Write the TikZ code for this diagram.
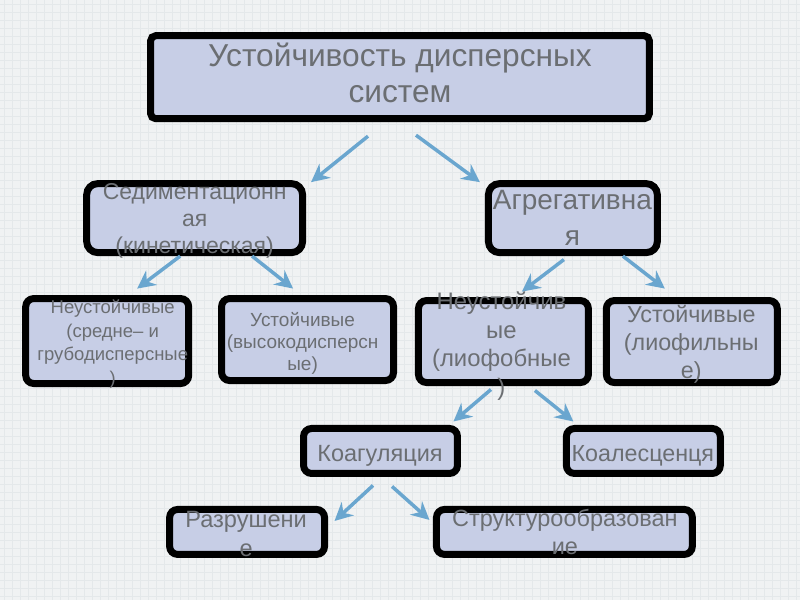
\documentclass[tikz,border=0pt]{standalone}
\usepackage{fontspec}
\setmainfont{Liberation Sans}
\usetikzlibrary{arrows.meta,calc}
\definecolor{bg}{HTML}{F0F2F3}
\definecolor{gridc}{HTML}{E4E8EA}
\definecolor{boxfill}{HTML}{C7CEE6}
\definecolor{txt}{HTML}{6B6E72}
\definecolor{arr}{HTML}{6AA6CF}
\begin{document}
\begin{tikzpicture}[x=1pt,y=-1pt,
  box/.style={draw=black, line width=7pt, fill=boxfill, rounded corners=8pt, inner sep=0pt},
  lbl/.style={text=txt, align=center, inner sep=0pt, anchor=base},
  gridline/.style={draw=gridc, line width=0.5pt},
  conn/.style={draw=arr, line width=3.5pt, -{Stealth[length=18pt,width=18pt,inset=6pt]}}]
\fill[bg] (0,0) rectangle (800,600);
\foreach \gx in {4,12,...,796} \draw[gridline] (\gx,0) -- (\gx,600);
\foreach \gy in {4,12,...,596} \draw[gridline] (0,\gy) -- (800,\gy);
\useasboundingbox (0,0) rectangle (800,600);

% boxes
\node[box, rounded corners=5pt, minimum width=499pt, minimum height=83pt] (top) at (400,77) {};
\node[box, rounded corners=11pt, minimum width=216pt, minimum height=69pt] (sed) at (194.5,218) {};
\node[box, rounded corners=11pt, minimum width=169pt, minimum height=69pt] (agr) at (573,218) {};
\node[box, minimum width=163pt, minimum height=85pt] (na) at (107,341) {};
\node[box, minimum width=172pt, minimum height=82pt] (ub) at (307.5,339.5) {};
\node[box, minimum width=170pt, minimum height=82pt] (nc) at (503.5,341.5) {};
\node[box, minimum width=171pt, minimum height=82pt] (ud) at (692,341.5) {};
\node[box, minimum width=154pt, minimum height=45pt] (koag) at (380.5,451) {};
\node[box, minimum width=154pt, minimum height=45pt] (koal) at (643.5,451) {};
\node[box, minimum width=155pt, minimum height=45pt] (razr) at (247,532) {};
\node[box, minimum width=256pt, minimum height=45pt] (str) at (564.5,532) {};

% texts (anchor = baseline of last line)
\node[lbl, font=\fontsize{31.7}{36}\selectfont] (ttop) at (400,102) {Устойчивость дисперсных\\систем};
\node[lbl, font=\fontsize{23}{27}\selectfont] (tsed) at (194.5,253) {Седиментационн\\ая\\(кинетическая)};
\node[lbl, font=\fontsize{28}{36}\selectfont] (tagr) at (572.5,245) {Агрегативна\\я};
\node[lbl, font=\fontsize{18.5}{23.5}\selectfont] (tna) at (112.5,384) {Неустойчивые\\(средне– и\\грубодисперсные\\)};
\node[lbl, font=\fontsize{19}{22}\selectfont] (tub) at (302.5,370) {Устойчивые\\(высокодисперсн\\ые)};
\node[lbl, font=\fontsize{23.9}{28.5}\selectfont] (tnc) at (501.5,395) {Неустойчив\\ые\\(лиофобные\\)};
\node[lbl, font=\fontsize{23.3}{28}\selectfont] (tud) at (691.5,378) {Устойчивые\\(лиофильны\\е)};
\node[lbl, font=\fontsize{23.5}{28}\selectfont] (tkoag) at (380,462) {Коагуляция};
\node[lbl, font=\fontsize{23.3}{28}\selectfont] (tkoal) at (643,462) {Коалесценця};
\node[lbl, font=\fontsize{23.6}{29}\selectfont] (trazr) at (246,557) {Разрушени\\е};
\node[lbl, font=\fontsize{23.5}{28}\selectfont] (tstr) at (565,555) {Структурообразован\\ие};

% connectors
\draw[conn] ($(top.south)+(-32,14)$) -- ($(sed.north east)+(5,2)$);
\draw[conn] ($(top.south)+(16,13)$) -- ($(agr.north west)+(-5,2)$);
\draw[conn] ($(sed.south)+(-14.5,0)$) -- ($(na.north)+(30,-6.5)$);
\draw[conn] ($(sed.south)+(57.5,0)$) -- ($(ub.north)+(-14.5,-6.5)$);
\draw[conn] ($(agr.south)+(-9,3.5)$) -- ($(nc.north)+(18.5,-5.5)$);
\draw[conn] ($(agr.south)+(50,0)$) -- ($(ud.north)+(-27,-8.5)$);
\draw[conn] ($(nc.south)+(-12.5,3.5)$) -- ($(koag.north east)+(-7.5,-3.5)$);
\draw[conn] ($(nc.south)+(31.5,4.5)$) -- ($(koal.north west)+(10.5,-3.5)$);
\draw[conn] ($(koag.south)+(-7.5,8.5)$) -- ($(razr.east)+(6.5,-11)$);
\draw[conn] ($(koag.south)+(11.5,9.5)$) -- ($(str.west)+(-3.5,-12)$);
\end{tikzpicture}
\end{document}
